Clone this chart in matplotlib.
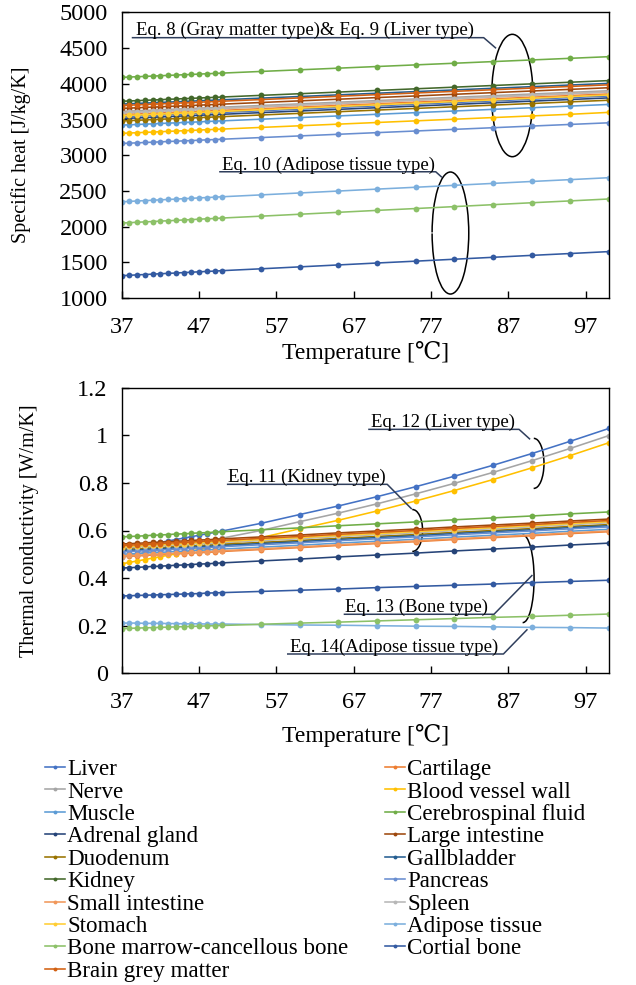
import numpy as np
import matplotlib
matplotlib.use("Agg")
import matplotlib.pyplot as plt
from matplotlib.patches import Arc
from matplotlib.lines import Line2D
from matplotlib.ticker import FuncFormatter, MultipleLocator, FixedLocator

plt.rcParams['font.family'] = ['Liberation Serif', 'DejaVu Serif']

temperature = [37, 38, 39, 40, 41, 42, 43, 44, 45, 46, 47, 48, 49, 50,
               55, 60, 65, 70, 75, 80, 85, 90, 95, 100]

tissues = ["Liver", "Cartilage", "Nerve", "Blood vessel wall", "Muscle",
           "Cerebrospinal fluid", "Adrenal gland", "Large intestine", "Duodenum",
           "Gallbladder", "Kidney", "Pancreas", "Small intestine", "Spleen",
           "Stomach", "Adipose tissue", "Bone marrow-cancellous bone",
           "Cortial bone", "Brain grey matter"]

colors = ["#4472C4", "#ED7D31", "#A5A5A5", "#FFC000", "#5B9BD5", "#70AD47",
          "#264478", "#9E480E", "#997300", "#255E91", "#43682B", "#698ED0",
          "#F1975A", "#B7B7B7", "#FFCD33", "#7CAFDD", "#8CC168", "#335AA1",
          "#D26012"]

# Specific heat [J/kg/K]
cp_liver = [3540,3545,3549,3554,3558,3563,3568,3572,3577,3581,3586,3591,3595,3600,3623,3646,3669,3692,3715,3738,3761,3784,3807,3830]
cp_cartilage = [3568,3573,3577,3582,3586,3591,3596,3600,3605,3609,3614,3619,3623,3628,3651,3674,3697,3720,3743,3766,3789,3812,3835,3858]
cp_nerve = [3613,3618,3622,3627,3631,3636,3641,3645,3650,3654,3659,3664,3668,3673,3696,3719,3742,3765,3788,3811,3834,3857,3880,3903]
cp_vessel = [3306,3311,3315,3320,3324,3329,3334,3338,3343,3347,3352,3357,3361,3366,3389,3412,3435,3458,3481,3504,3527,3550,3573,3600]
cp_muscle = [3421,3426,3430,3435,3439,3444,3449,3453,3458,3462,3467,3472,3476,3481,3504,3527,3550,3573,3596,3619,3642,3665,3688,3711]
cp_csf = [4090,4095,4099,4104,4108,4113,4118,4122,4127,4131,4136,4141,4145,4150,4173,4196,4219,4242,4265,4288,4311,4334,4357,4380]
cp_adrenal = [3513,3518,3522,3527,3531,3536,3541,3545,3550,3554,3559,3564,3568,3573,3596,3619,3642,3665,3688,3711,3734,3757,3780,3803]
cp_large_int = [3655,3660,3664,3669,3673,3678,3683,3687,3692,3696,3701,3706,3710,3715,3738,3761,3784,3807,3830,3853,3876,3899,3922,3945]
cp_duodenum = [3480,3485,3489,3494,3498,3503,3508,3512,3517,3521,3526,3531,3535,3540,3563,3586,3609,3632,3655,3678,3701,3724,3747,3770]
cp_gallbladder = [3716,3721,3725,3730,3734,3739,3744,3748,3753,3757,3762,3767,3771,3776,3799,3822,3845,3868,3891,3914,3937,3960,3983,4006]
cp_kidney = [3755,3760,3764,3769,3773,3778,3783,3787,3792,3796,3801,3806,3810,3815,3838,3861,3884,3907,3930,3953,3976,3999,4022,4045]
cp_pancreas = [3164,3169,3173,3178,3182,3187,3192,3196,3201,3205,3210,3215,3219,3224,3247,3270,3293,3316,3339,3362,3385,3408,3431,3454]
cp_small_int = [3595,3600,3604,3609,3613,3618,3623,3627,3632,3636,3641,3646,3650,3655,3678,3701,3724,3747,3770,3793,3816,3839,3862,3885]
cp_spleen = [3596,3601,3605,3610,3614,3619,3624,3628,3633,3637,3642,3647,3651,3656,3679,3702,3725,3748,3771,3794,3817,3840,3863,3886]
cp_stomach = [3553,3558,3562,3567,3571,3576,3581,3585,3590,3594,3599,3604,3608,3613,3636,3659,3682,3705,3728,3751,3774,3797,3820,3843]
cp_adipose = [2348,2353,2359,2364,2369,2375,2380,2385,2391,2396,2402,2407,2412,2418,2444,2471,2498,2525,2551,2578,2605,2632,2658,2685]
cp_marrow = [2050,2055,2061,2066,2071,2077,2082,2087,2093,2098,2104,2109,2114,2120,2146,2173,2200,2227,2253,2280,2307,2334,2360,2387]
cp_cortical = [1313,1318,1324,1329,1334,1340,1345,1350,1356,1361,1367,1372,1377,1383,1409,1436,1463,1490,1516,1543,1570,1597,1623,1650]
cp_grey = [3696,3701,3705,3710,3714,3719,3724,3728,3733,3737,3742,3747,3751,3756,3779,3802,3825,3848,3871,3894,3917,3940,3963,3986]

# Thermal conductivity [W/m/K]
k_liver = [0.520,0.526,0.532,0.538,0.544,0.550,0.556,0.562,0.568,0.574,0.580,0.586,0.592,0.598,0.630,0.667,0.703,0.742,0.784,0.828,0.874,0.923,0.975,1.029]
k_cartilage = [0.490,0.492,0.493,0.495,0.497,0.498,0.500,0.502,0.503,0.505,0.507,0.508,0.510,0.512,0.520,0.528,0.537,0.545,0.553,0.562,0.570,0.578,0.587,0.595]
k_nerve = [0.490,0.496,0.502,0.508,0.514,0.520,0.526,0.532,0.538,0.544,0.550,0.556,0.562,0.568,0.600,0.637,0.673,0.712,0.754,0.798,0.844,0.893,0.945,0.999]
k_vessel = [0.460,0.466,0.472,0.478,0.484,0.490,0.496,0.502,0.508,0.514,0.520,0.526,0.532,0.538,0.570,0.607,0.643,0.682,0.724,0.768,0.814,0.863,0.915,0.969]
k_muscle = [0.500,0.502,0.503,0.505,0.507,0.508,0.510,0.512,0.513,0.515,0.517,0.518,0.520,0.522,0.530,0.538,0.547,0.555,0.563,0.572,0.580,0.588,0.597,0.605]
k_csf = [0.573,0.575,0.576,0.578,0.580,0.581,0.583,0.585,0.586,0.588,0.590,0.591,0.593,0.595,0.603,0.611,0.620,0.628,0.636,0.645,0.653,0.661,0.670,0.678]
k_adrenal = [0.442,0.444,0.445,0.447,0.449,0.450,0.452,0.454,0.455,0.457,0.459,0.460,0.462,0.464,0.472,0.480,0.489,0.497,0.505,0.514,0.522,0.530,0.539,0.547]
k_large_int = [0.543,0.545,0.546,0.548,0.550,0.551,0.553,0.555,0.556,0.558,0.560,0.561,0.563,0.565,0.573,0.581,0.590,0.598,0.606,0.615,0.623,0.631,0.640,0.648]
k_duodenum = [0.520,0.522,0.523,0.525,0.527,0.528,0.530,0.532,0.533,0.535,0.537,0.538,0.540,0.542,0.550,0.558,0.567,0.575,0.583,0.592,0.600,0.608,0.617,0.625]
k_gallbladder = [0.515,0.517,0.518,0.520,0.522,0.523,0.525,0.527,0.528,0.530,0.532,0.533,0.535,0.537,0.545,0.553,0.562,0.570,0.578,0.587,0.595,0.603,0.612,0.620]
k_kidney = [0.530,0.532,0.533,0.535,0.537,0.538,0.540,0.542,0.543,0.545,0.547,0.548,0.550,0.552,0.560,0.568,0.577,0.585,0.593,0.602,0.610,0.618,0.627,0.635]
k_pancreas = [0.510,0.512,0.513,0.515,0.517,0.518,0.520,0.522,0.523,0.525,0.527,0.528,0.530,0.532,0.540,0.548,0.557,0.565,0.573,0.582,0.590,0.598,0.607,0.615]
k_small_int = [0.493,0.495,0.496,0.498,0.500,0.501,0.503,0.505,0.506,0.508,0.510,0.511,0.513,0.515,0.523,0.531,0.540,0.548,0.556,0.565,0.573,0.581,0.590,0.598]
k_spleen = [0.528,0.530,0.531,0.533,0.535,0.536,0.538,0.540,0.541,0.543,0.545,0.546,0.548,0.550,0.558,0.566,0.575,0.583,0.591,0.600,0.608,0.616,0.625,0.633]
k_stomach = [0.532,0.534,0.535,0.537,0.539,0.540,0.542,0.544,0.545,0.547,0.549,0.550,0.552,0.554,0.562,0.570,0.579,0.587,0.595,0.604,0.612,0.620,0.629,0.637]
k_adipose = [0.211,0.211,0.211,0.210,0.210,0.210,0.209,0.209,0.208,0.208,0.208,0.207,0.207,0.207,0.205,0.203,0.202,0.200,0.198,0.197,0.195,0.193,0.192,0.190]
k_marrow = [0.188,0.189,0.190,0.191,0.192,0.193,0.194,0.195,0.196,0.197,0.198,0.199,0.200,0.201,0.206,0.211,0.215,0.220,0.225,0.230,0.235,0.239,0.244,0.249]
k_cortical = [0.325,0.326,0.327,0.328,0.329,0.330,0.331,0.332,0.333,0.334,0.335,0.337,0.338,0.339,0.344,0.349,0.354,0.360,0.365,0.370,0.375,0.381,0.386,0.391]
k_grey = [0.537,0.539,0.540,0.542,0.544,0.545,0.547,0.549,0.550,0.552,0.554,0.555,0.557,0.559,0.567,0.575,0.584,0.592,0.600,0.609,0.617,0.625,0.634,0.642]

cp_series = [cp_liver, cp_cartilage, cp_nerve, cp_vessel, cp_muscle, cp_csf,
             cp_adrenal, cp_large_int, cp_duodenum, cp_gallbladder, cp_kidney,
             cp_pancreas, cp_small_int, cp_spleen, cp_stomach, cp_adipose,
             cp_marrow, cp_cortical, cp_grey]
k_series = [k_liver, k_cartilage, k_nerve, k_vessel, k_muscle, k_csf,
            k_adrenal, k_large_int, k_duodenum, k_gallbladder, k_kidney,
            k_pancreas, k_small_int, k_spleen, k_stomach, k_adipose,
            k_marrow, k_cortical, k_grey]

W, H = 636, 985
fig = plt.figure(figsize=(W / 100, H / 100), dpi=100)

def px_axes(l, t, r, b):
    return fig.add_axes([l / W, 1 - b / H, (r - l) / W, (b - t) / H])

ax1 = px_axes(121.7, 12.4, 609, 298)
ax2 = px_axes(121.7, 387.7, 609, 673.3)

LW = 1.15
MS = 4.2
TICK_FS = 17.5
LABEL_FS = 17
ANN_FS = 13.5
LEAD = "#2F3E5C"

for ax, series in ((ax1, cp_series), (ax2, k_series)):
    for name, vals, c in zip(tissues, series, colors):
        ax.plot(temperature, vals, color=c, lw=LW, marker='o', ms=MS,
                markeredgewidth=0, label=name)
    ax.set_xlim(37, 100)
    ax.xaxis.set_major_locator(FixedLocator([37, 47, 57, 67, 77, 87, 97]))
    ax.tick_params(direction='in', length=5, width=1, labelsize=TICK_FS)
    ax.tick_params(axis='x', pad=13.5)
    ax.tick_params(axis='y', pad=10)
    for s in ax.spines.values():
        s.set_linewidth(1.0)
        s.set_color('black')
    ax.yaxis.set_major_formatter(FuncFormatter(lambda v, p: f"{v:g}"))

ax1.set_xlabel("Temperature [\u2103]", fontsize=LABEL_FS, labelpad=2)
ax2.set_xlabel("Temperature [\u2103]", fontsize=LABEL_FS, labelpad=8)

ax1.set_ylim(1000, 5000)
ax1.yaxis.set_major_locator(MultipleLocator(500))
ax1.set_ylabel("Specific heat [J/kg/K]", fontsize=14.5)
ax1.yaxis.set_label_coords(-0.186, 0.5)

ax2.set_ylim(0, 1.2)
ax2.yaxis.set_major_locator(MultipleLocator(0.2))
ax2.set_ylabel("Thermal conductivity [W/m/K]", fontsize=14.5)
ax2.yaxis.set_label_coords(-0.170, 0.5)

def leader(ax, pts):
    xs, ys = zip(*pts)
    ax.plot(xs, ys, color=LEAD, lw=1.1, solid_capstyle='butt')

def bracket(ax, cx, cy, w, h, t1, t2):
    ax.add_patch(Arc((cx, cy), w, h, theta1=t1, theta2=t2, color='black',
                     lw=1.1))

# Top annotations
ax1.text(38.85, 4680, "Eq. 8 (Gray matter type)& Eq. 9 (Liver type)",
         fontsize=ANN_FS, va='baseline', ha='left')
leader(ax1, [(38.3, 4646), (83.8, 4646), (85.4, 4497)])
bracket(ax1, 87.5, 3836, 5.34, 1714, -114, 109)

ax1.text(50.0, 2800, "Eq. 10 (Adipose tissue type)", fontsize=ANN_FS,
         va='baseline', ha='left')
leader(ax1, [(49.6, 2768), (77.6, 2768), (78.4, 2690)])
bracket(ax1, 79.5, 1910, 4.74, 1709, -112, 106)

# Bottom annotations
ax2.text(69.25, 1.035, "Eq. 12 (Liver type)", fontsize=ANN_FS,
         va='baseline', ha='left')
leader(ax2, [(68.87, 1.025), (88.37, 1.025), (89.8, 0.983)])
bracket(ax2, 90.3, 0.882, 2.59, 0.21, -111, 102)

ax2.text(50.8, 0.804, "Eq. 11 (Kidney type)", fontsize=ANN_FS,
         va='baseline', ha='left')
leader(ax2, [(50.6, 0.794), (71.33, 0.794), (74.5, 0.690)])
bracket(ax2, 74.6, 0.600, 2.6, 0.176, -110, 112)

ax2.text(65.9, 0.258, "Eq. 13 (Bone type)", fontsize=ANN_FS,
         va='baseline', ha='left')
leader(ax2, [(65.7, 0.248), (85.13, 0.248), (90.1, 0.413)])
bracket(ax2, 88.85, 0.397, 2.93, 0.368, -95, 99)

ax2.text(58.8, 0.091, "Eq. 14(Adipose tissue type)", fontsize=ANN_FS,
         va='baseline', ha='left')
leader(ax2, [(58.37, 0.0811), (86.35, 0.0811), (89.46, 0.185)])

# Legend in two columns (row-major order)
handles = [Line2D([], [], color=c, lw=LW, marker='o', ms=2.8,
                  markeredgewidth=0) for c in colors]
col1 = list(range(0, len(tissues), 2))
col2 = list(range(1, len(tissues), 2))
LEG_FS = 16.6
common = dict(frameon=False, fontsize=LEG_FS, handlelength=0.85,
              handletextpad=0.12, labelspacing=0.055, borderpad=0,
              borderaxespad=0, loc='upper left')
fig.legend([handles[i] for i in col1], [tissues[i] for i in col1],
           bbox_to_anchor=(45 / W, 1 - 759 / H), **common)
fig.legend([handles[i] for i in col2], [tissues[i] for i in col2],
           bbox_to_anchor=(385 / W, 1 - 759 / H), **common)

fig.savefig("out.png", dpi=100)
